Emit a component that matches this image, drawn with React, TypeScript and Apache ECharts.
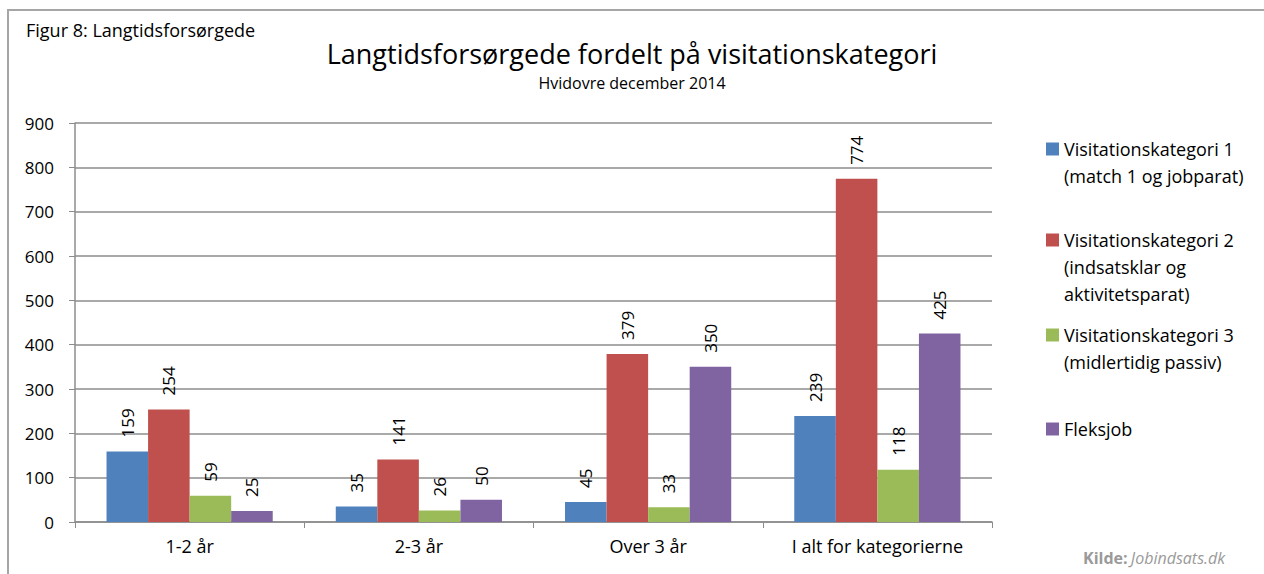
import React, { useEffect, useRef } from "react";
import * as echarts from "echarts";

const categories = ["1-2 år", "2-3 år", "Over 3 år", "I alt for kategorierne"];
const seriesNames = [
  "Visitationskategori 1",
  "Visitationskategori 2",
  "Visitationskategori 3",
  "Fleksjob",
];
const legendLabels = [
  "Visitationskategori 1\n(match 1 og jobparat)",
  "Visitationskategori 2\n(indsatsklar og\naktivitetsparat)",
  "Visitationskategori 3\n(midlertidig passiv)",
  "Fleksjob",
];
const kat1 = [159, 35, 45, 239];
const kat2 = [254, 141, 379, 774];
const kat3 = [59, 26, 33, 118];
const fleks = [25, 50, 350, 425];
const colors = ["#4F81BD", "#C0504D", "#9BBB59", "#8064A2"];
const yTicks = { min: 0, max: 900, interval: 100 };

const FONT = "'Open Sans', 'Noto Sans', sans-serif";

export default function App() {
  const ref = useRef<HTMLDivElement>(null);
  useEffect(() => {
    if (!ref.current) return;
    const chart = echarts.init(ref.current, undefined, { renderer: "svg" });
    const values = [kat1, kat2, kat3, fleks];
    const lineH = 27;
    const iconCenters = [149, 240, 335, 429];
    const legends = seriesNames.map((name, i) => {
      const nLines = legendLabels[i].split("\n").length;
      const total = 2 * nLines - 1;
      const text = "\n".repeat(nLines - 1) + legendLabels[i];
      return {
        data: [name],
        orient: "vertical",
        left: 1046,
        top: iconCenters[i] - (total * lineH) / 2,
        padding: 0,
        itemGap: 0,
        itemWidth: 13,
        itemHeight: 13,
        icon: "rect",
        selectedMode: false,
        formatter: () => text,
        textStyle: {
          fontFamily: FONT,
          fontSize: 18,
          lineHeight: lineH,
          color: "#000",
        },
      };
    });
    chart.setOption({
      animation: false,
      backgroundColor: "#fff",
      textStyle: { fontFamily: FONT },
      title: [
        {
          text: "Langtidsforsørgede fordelt på visitationskategori",
          subtext: "Hvidovre december 2014",
          left: "center",
          top: 35,
          itemGap: 8,
          textStyle: { fontFamily: FONT, fontSize: 27, fontWeight: "normal", color: "#000" },
          subtextStyle: { fontFamily: FONT, fontSize: 16, color: "#000" },
        },
        {
          text: "Figur 8: Langtidsforsørgede",
          left: 26,
          top: 21,
          padding: 0,
          textStyle: { fontFamily: FONT, fontSize: 18, fontWeight: "normal", color: "#000" },
        },
      ],
      legend: legends,
      grid: { left: 75, right: 272, top: 123, bottom: 52, containLabel: false },
      xAxis: {
        type: "category",
        data: categories,
        axisLine: { lineStyle: { color: "#8c8c8c", width: 1.5 } },
        axisTick: { show: true, length: 6, lineStyle: { color: "#8c8c8c" } },
        axisLabel: { fontFamily: FONT, fontSize: 18, color: "#000", margin: 15 },
      },
      yAxis: {
        type: "value",
        min: yTicks.min,
        max: yTicks.max,
        interval: yTicks.interval,
        axisLine: { show: true, lineStyle: { color: "#8c8c8c", width: 1.5 } },
        axisTick: { show: true, length: 6, lineStyle: { color: "#8c8c8c" } },
        axisLabel: { fontFamily: FONT, fontSize: 17, color: "#000", margin: 21 },
        splitLine: { show: true, lineStyle: { color: "#8c8c8c", width: 1.5 } },
      },
      series: seriesNames.map((name, i) => ({
        type: "bar",
        name,
        data: values[i],
        barGap: "0%",
        barCategoryGap: "27.5%",
        itemStyle: { color: colors[i] },
        label: {
          show: true,
          position: "top",
          rotate: 90,
          align: "left",
          verticalAlign: "middle",
          distance: 14,
          fontFamily: FONT,
          fontSize: 17,
          color: "#000",
        },
      })),
      graphic: [
        {
          type: "polyline",
          shape: { points: [[8, 574], [8, 10], [1264, 10]] },
          style: { stroke: "#a6a6a6", lineWidth: 2, fill: null },
          silent: true,
        },
        {
          type: "text",
          left: 1083,
          top: 550,
          style: {
            text: "{a|Kilde:} {b|Jobindsats.dk}",
            rich: {
              a: { fontFamily: FONT, fontSize: 16, fontWeight: "bold", fill: "#9a9a9a" },
              b: { fontFamily: FONT, fontSize: 16, fontStyle: "italic", fill: "#9a9a9a" },
            },
          },
        },
      ],
    });
    return () => chart.dispose();
  }, []);
  return (
    <div
      ref={ref}
      style={{ position: "absolute", left: 0, top: 0, width: 1264, height: 574 }}
    />
  );
}
